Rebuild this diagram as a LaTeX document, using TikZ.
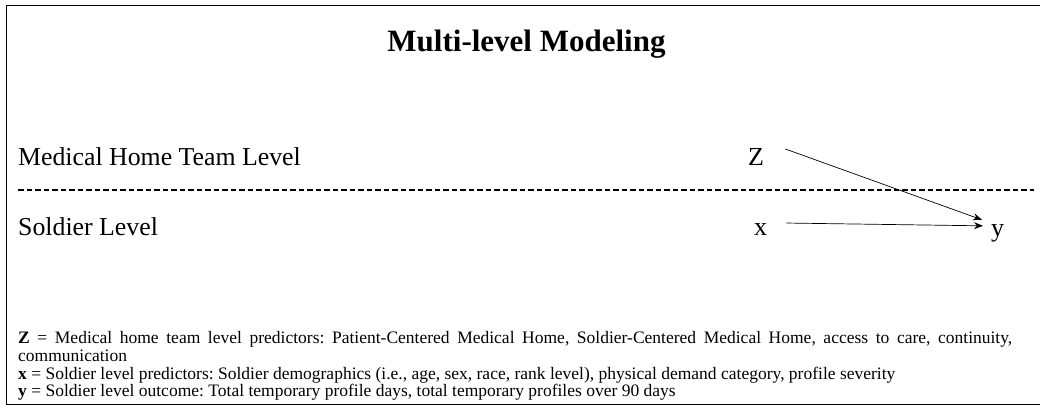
\documentclass[tikz,border=0pt]{standalone}
\usepackage{fontspec}
\setmainfont{Liberation Serif}
\usetikzlibrary{calc,arrows.meta}
\frenchspacing
\tikzset{
  lbl/.style={anchor=base west, inner sep=0pt, font=\fontsize{25.8}{30}\selectfont},
  var/.style={anchor=base west, inner sep=0pt, font=\fontsize{26}{30}\selectfont},
  note/.style={anchor=base west, inner sep=0pt, font=\fontsize{17.5}{18}\selectfont},
  link/.style={line width=0.7pt, -{Stealth[length=9pt,width=7pt]}},
}
\begin{document}
\begin{tikzpicture}[x=1pt,y=-1pt]
\useasboundingbox (0,0) rectangle (1040,406);
% frame
\draw[line width=1.5pt] (1045,5.5) -- (6.5,5.5) -- (6.5,404.5) -- (1045,404.5);
% title
\node[anchor=base, inner sep=0pt, font=\fontsize{31}{36}\selectfont\bfseries] (title) at (526.5,52) {Multi-level Modeling};
% level labels
\node[lbl] (team) at (18,166) {Medical Home Team Level};
\node[lbl] (soldier) at (18,235) {Soldier Level};
% level separator
\coordinate (sepL) at (18,190);
\coordinate (sepR) at (1034,190);
\draw[line width=1.5pt, dash pattern=on 5.5pt off 3pt] (sepL) -- (sepR);
% variables
\node[var] (Z) at (748,166) {Z};
\node[var] (x) at (754,235) {x};
\node[var] (y) at (991,236) {y};
% paths
\draw[link] ($(Z.east)+(21,-8.5)$) -- ($(y.west)+(-9,-13)$);
\draw[link] ($(x.east)+(19,-6)$) -- ($(y.west)+(-8,-7)$);
% legend
\node[note] (nZ) at (18,343) {\makebox[994pt][s]{\textbf{Z} = Medical home team level predictors: Patient-Centered Medical Home, Soldier-Centered Medical Home, access to care, continuity,}};
\node[note] (nZ2) at (18,361) {communication};
\node[note] (nx) at (18,379) {\textbf{x} = Soldier level predictors: Soldier demographics (i.e., age, sex, race, rank level), physical demand category, profile severity};
\node[note] (ny) at (18,396.5) {\textbf{y} = Soldier level outcome: Total temporary profile days, total temporary profiles over 90 days};
\end{tikzpicture}
\end{document}
